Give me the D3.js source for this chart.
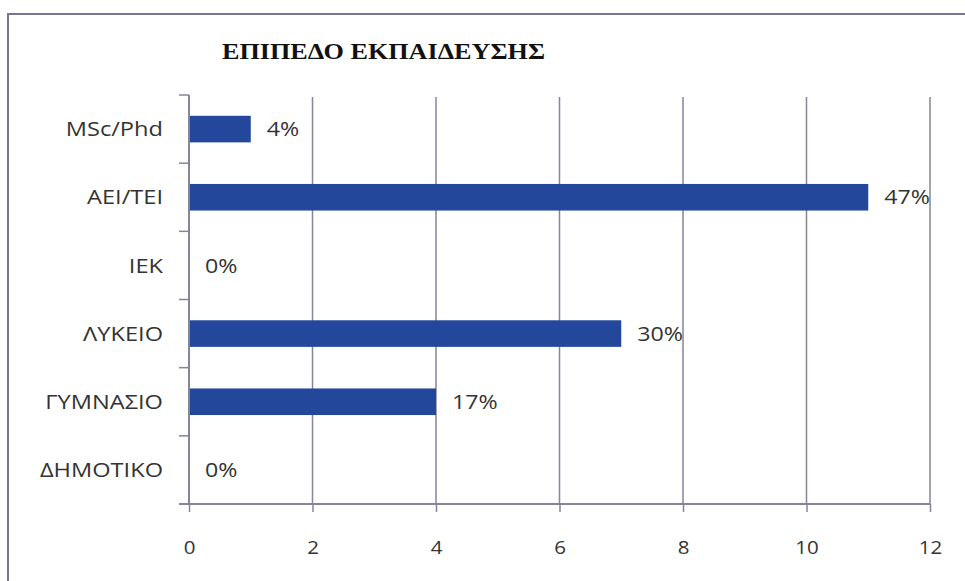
<!DOCTYPE html>
<html>
<head>
<meta charset="utf-8">
<script src="https://cdn.jsdelivr.net/npm/d3@7"></script>
<style>
  body { margin: 0; background: #fff; }
  svg { display: block; }
</style>
</head>
<body>
<script>
// chart data
var categories = ["MSc/Phd", "ΑΕΙ/ΤΕΙ", "ΙΕΚ", "ΛΥΚΕΙΟ", "ΓΥΜΝΑΣΙΟ", "ΔΗΜΟΤΙΚΟ"];
var counts = [1, 11, 0, 7, 4, 0];
var percents = ["4%", "47%", "0%", "30%", "17%", "0%"];
var xTicks = [0, 2, 4, 6, 8, 10, 12];
var title = "ΕΠΙΠΕΔΟ ΕΚΠΑΙΔΕΥΣΗΣ";

var width = 965, height = 581;
var plotLeft = 189, plotRight = 930, plotTop = 95, plotBottom = 504;
var gridColor = "#85849b", barColor = "#23479b", textColor = "#333";
var font = "'Open Sans', sans-serif";

// the original text is a bit wider than Open Sans, stretch it
function widen(sel, k) {
  sel.each(function() {
    var w = this.getComputedTextLength();
    d3.select(this).attr("textLength", w * k).attr("lengthAdjust", "spacingAndGlyphs");
  });
}

var svg = d3.select("body").append("svg")
    .attr("width", width)
    .attr("height", height);

// frame
svg.append("path")
    .attr("d", "M8,581V14H965")
    .attr("fill", "none")
    .attr("stroke", "#77778a")
    .attr("stroke-width", 2);

// title
svg.append("text")
    .attr("x", 222)
    .attr("y", 59)
    .attr("font-family", "'Liberation Serif', serif")
    .attr("font-weight", "bold")
    .attr("font-size", 24)
    .attr("textLength", 323)
    .attr("lengthAdjust", "spacingAndGlyphs")
    .attr("fill", "#111")
    .text(title);

var x = d3.scaleLinear().domain([0, 12]).range([plotLeft, plotRight]);
var y = d3.scaleBand().domain(categories).range([plotTop, plotBottom])
    .paddingInner(0.61).paddingOuter(0.305);

// vertical gridlines
svg.selectAll("line.grid")
    .data(xTicks.slice(1))
    .enter().append("line")
    .attr("class", "grid")
    .attr("x1", function(d) { return x(d); })
    .attr("x2", function(d) { return x(d); })
    .attr("y1", plotTop + 2)
    .attr("y2", plotBottom)
    .attr("stroke", gridColor)
    .attr("stroke-width", 1.5);

// bars
var data = categories.map(function(c, i) { return {cat: c, v: counts[i], p: percents[i]}; });
svg.selectAll("rect.bar")
    .data(data)
    .enter().append("rect")
    .attr("class", "bar")
    .attr("x", x(0))
    .attr("y", function(d) { return y(d.cat); })
    .attr("width", function(d) { return x(d.v) - x(0); })
    .attr("height", y.bandwidth())
    .attr("fill", barColor);

// value labels
svg.selectAll("text.val")
    .data(data)
    .enter().append("text")
    .attr("class", "val")
    .attr("x", function(d) { return x(d.v) + 16; })
    .attr("y", function(d) { return y(d.cat) + y.bandwidth() / 2; })
    .attr("dy", "0.36em")
    .attr("font-family", font)
    .attr("font-size", 20)
    .attr("fill", textColor)
    .text(function(d) { return d.p; })
    .call(widen, 1.16);

// x axis
var xAxis = d3.axisBottom(x).tickValues(xTicks).tickSize(8).tickPadding(29);
var gx = svg.append("g")
    .attr("transform", "translate(0," + plotBottom + ")")
    .call(xAxis);
gx.select(".domain").attr("stroke", gridColor).attr("stroke-width", 2)
    .attr("d", "M" + (plotLeft - 10) + ",0H" + plotRight);
gx.selectAll(".tick line").attr("stroke", gridColor).attr("stroke-width", 1.5);
gx.selectAll(".tick text")
    .attr("font-family", font)
    .attr("font-size", 19)
    .attr("fill", textColor)
    .call(widen, 1.08);

// y axis: line plus ticks at band boundaries
var boundaries = d3.range(categories.length).map(function(i) { return plotTop + i * y.step(); });
svg.append("line")
    .attr("x1", plotLeft).attr("x2", plotLeft)
    .attr("y1", plotTop).attr("y2", plotBottom)
    .attr("stroke", gridColor)
    .attr("stroke-width", 2);
svg.selectAll("line.ytick")
    .data(boundaries)
    .enter().append("line")
    .attr("class", "ytick")
    .attr("x1", plotLeft - 10).attr("x2", plotLeft)
    .attr("y1", function(d) { return d; })
    .attr("y2", function(d) { return d; })
    .attr("stroke", gridColor)
    .attr("stroke-width", 1.5);

// category labels
svg.selectAll("text.cat")
    .data(categories)
    .enter().append("text")
    .attr("class", "cat")
    .attr("x", 163)
    .attr("y", function(d) { return y(d) + y.bandwidth() / 2; })
    .attr("dy", "0.36em")
    .attr("text-anchor", "end")
    .attr("font-family", font)
    .attr("font-size", 20)
    .attr("fill", textColor)
    .text(function(d) { return d; })
    .call(widen, 1.18);
</script>
</body>
</html>
